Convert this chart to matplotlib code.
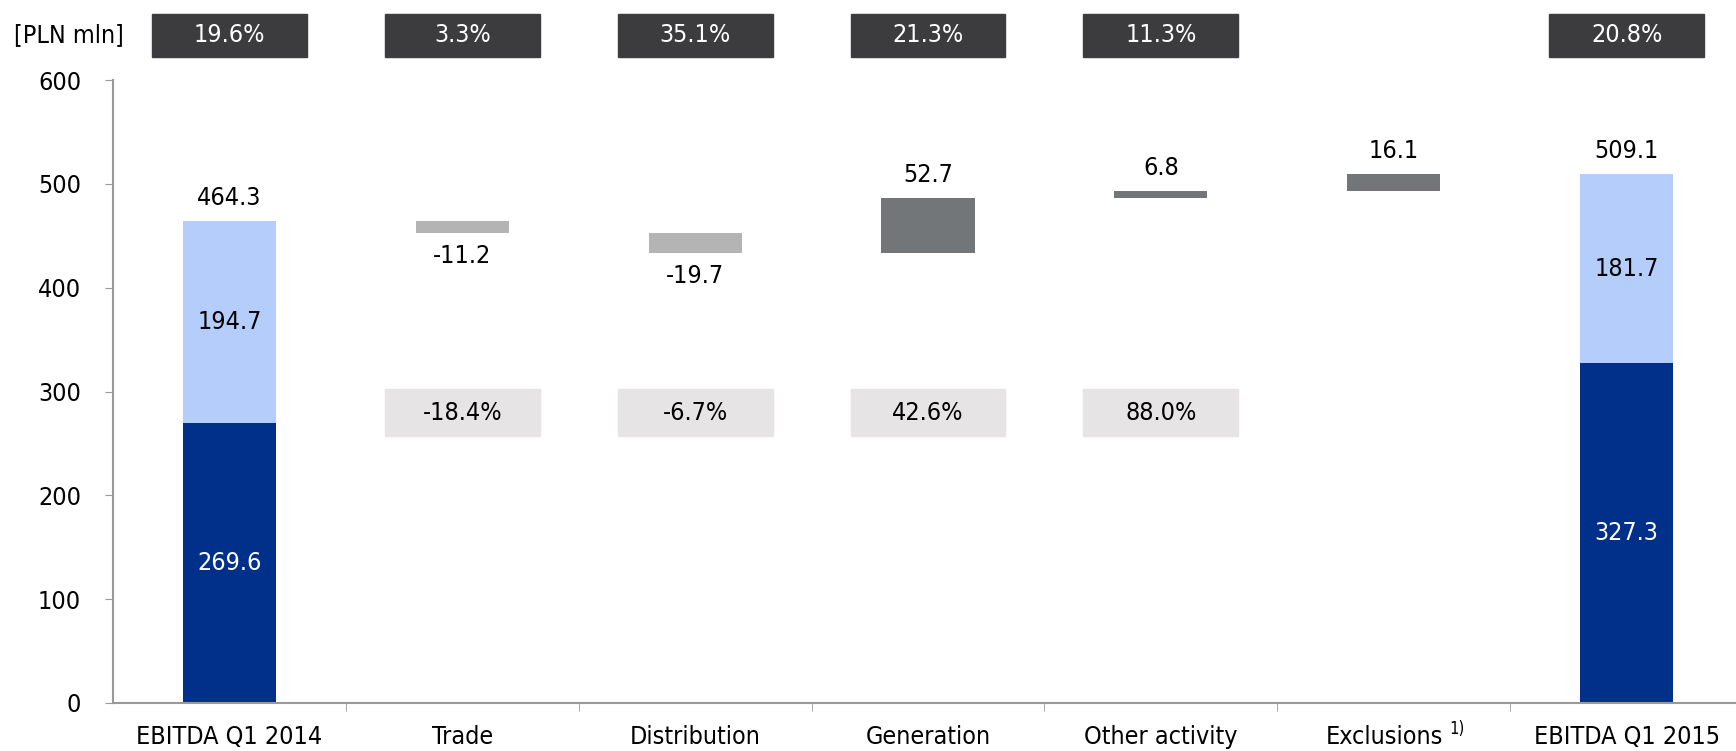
import numpy as np
import matplotlib
matplotlib.use('Agg')
import matplotlib.pyplot as plt
import matplotlib.transforms as mtransforms
from matplotlib.patches import Rectangle

plt.rcParams['font.family'] = ['DejaVu Sans']
plt.rcParams['font.stretch'] = 'condensed'

categories = ['EBITDA Q1 2014', 'Trade', 'Distribution', 'Generation',
              'Other activity', 'Exclusions', 'EBITDA Q1 2015']
footnote = '1)'
start_parts = [269.6, 194.7]
end_parts = [327.3, 181.7]
start_total = 464.3
end_total = 509.1
changes = [-11.2, -19.7, 52.7, 6.8, 16.1]
margin_labels = ['19.6%', '3.3%', '35.1%', '21.3%', '11.3%', None, '20.8%']
change_pct = [None, '-18.4%', '-6.7%', '42.6%', '88.0%', None, None]

navy = '#00308a'
light_blue = '#b4cdfa'
neg_gray = '#b4b4b4'
pos_gray = '#737679'

fig = plt.figure(figsize=(17.36, 7.51), dpi=100)
ax = fig.add_axes([113 / 1736, 48 / 751, 1630 / 1736, 623 / 751])

x = np.arange(len(categories))
w = 0.4
fs = 18

# start / end stacked bars
for xi, parts, total in [(0, start_parts, start_total), (6, end_parts, end_total)]:
    ax.bar(xi, parts[0], w, color=navy)
    ax.bar(xi, parts[1], w, bottom=parts[0], color=light_blue)
    ax.text(xi, parts[0] / 2, f'{parts[0]:.1f}', ha='center', va='center', color='white', fontsize=fs)
    ax.text(xi, parts[0] + parts[1] / 2, f'{parts[1]:.1f}', ha='center', va='center', color='black', fontsize=fs)
    ax.annotate(f'{total:.1f}', (xi, total), xytext=(0, 8), textcoords='offset points',
                ha='center', va='bottom', fontsize=fs)

# waterfall steps
level = start_total
for i, c in enumerate(changes):
    xi = i + 1
    bottom = level if c >= 0 else level + c
    ax.bar(xi, abs(c), w, bottom=bottom, color=pos_gray if c >= 0 else neg_gray)
    if c >= 0:
        ax.annotate(f'{c:.1f}', (xi, bottom + abs(c)), xytext=(0, 8), textcoords='offset points',
                    ha='center', va='bottom', fontsize=fs)
    else:
        ax.annotate(f'{c:.1f}', (xi, bottom), xytext=(0, -8), textcoords='offset points',
                    ha='center', va='top', fontsize=fs)
    level += c

# percentage boxes
bw = 0.665
for xi, lab in zip(x, margin_labels):
    if lab is None:
        continue
    ax.add_patch(Rectangle((xi - bw / 2, 622), bw, 42, color='#3c3c3e', clip_on=False))
    ax.text(xi, 643, lab, ha='center', va='center', color='white', fontsize=fs)
for xi, lab in zip(x, change_pct):
    if lab is None:
        continue
    ax.add_patch(Rectangle((xi - bw / 2, 257), bw, 45, color='#e6e4e5', zorder=0))
    ax.text(xi, 279.5, lab, ha='center', va='center', color='black', fontsize=fs)

ax.text(-0.69, 643, '[PLN mln]', ha='center', va='center', fontsize=fs)

ax.set_xlim(-0.5, 6.5)
ax.set_ylim(0, 600)
ax.set_yticks([0, 100, 200, 300, 400, 500, 600])
ax.set_xticks(x)
ax.set_xticklabels(categories, fontsize=fs)
ax.set_xticks(np.arange(0.5, 6.5, 1), minor=True)
ax.tick_params(axis='x', which='major', length=0, pad=16)
ax.tick_params(axis='x', which='minor', length=6, color='#999999', direction='out')
ax.tick_params(axis='y', length=6, color='#999999', labelsize=fs, pad=17)

# nudge "Exclusions" left and put the footnote marker after it
excl = ax.get_xticklabels()[5]
excl.set_transform(excl.get_transform() +
                   mtransforms.ScaledTranslation(-0.09, 0, fig.dpi_scale_trans))
ax.annotate(footnote, xy=(1, 1), xycoords=excl, xytext=(4, 4), textcoords='offset points',
            ha='left', va='top', fontsize=12)

for s in ['top', 'right']:
    ax.spines[s].set_visible(False)
for s in ['left', 'bottom']:
    ax.spines[s].set_color('#999999')
    ax.spines[s].set_linewidth(1.5)

plt.savefig('out.png', dpi=100)
